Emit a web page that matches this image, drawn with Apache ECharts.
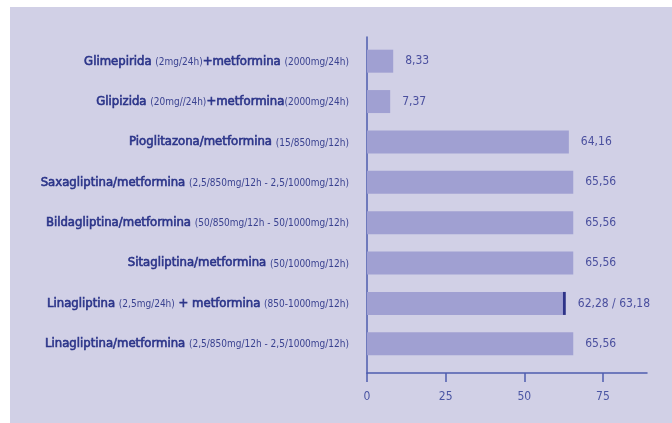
<!DOCTYPE html>
<html>
<head>
<meta charset="utf-8">
<script src="https://cdn.jsdelivr.net/npm/echarts@6/dist/echarts.min.js"></script>
<style>
  html, body { margin: 0; padding: 0; background: #ffffff; }
  #chart { position: absolute; left: 10px; top: 7px; width: 662px; height: 416px; }
</style>
</head>
<body>
<div id="chart"></div>
<script>
// ---- data ----
const categories = [
  "Glimepirida (2mg/24h)+metformina (2000mg/24h)",
  "Glipizida (20mg//24h)+metformina(2000mg/24h)",
  "Pioglitazona/metformina (15/850mg/12h)",
  "Saxagliptina/metformina (2,5/850mg/12h - 2,5/1000mg/12h)",
  "Bildagliptina/metformina (50/850mg/12h - 50/1000mg/12h)",
  "Sitagliptina/metformina (50/1000mg/12h)",
  "Linagliptina (2,5mg/24h) + metformina (850-1000mg/12h)",
  "Linagliptina/metformina (2,5/850mg/12h - 2,5/1000mg/12h)"
];
const baseValues = [8.33, 7.37, 64.16, 65.56, 65.56, 65.56, 62.28, 65.56];
const extraValues = [0, 0, 0, 0, 0, 0, 0.90, 0];
const valueLabels = ["8,33", "7,37", "64,16", "65,56", "65,56", "65,56", "62,28 / 63,18", "65,56"];
const tickValues = [0, 25, 50, 75];

// ---- chart ----
const FONT = "'DejaVu Sans Condensed', 'Liberation Sans Narrow', sans-serif";
const chart = echarts.init(document.getElementById('chart'), null, { renderer: 'canvas' });

function richLabel(text) {
  return text.split(/(\([^)]*\))/).filter(s => s.length).map(s =>
    s.startsWith('(') ? '{r|' + s + '}' : '{b|' + s + '}'
  ).join('');
}

const option = {
  backgroundColor: '#d1d0e6',
  animation: false,
  grid: [
    { left: 357, right: 25, top: 34, bottom: 59, containLabel: false, outerBoundsMode: 'none' },
    { left: 357, right: 25, top: 30, bottom: 50, containLabel: false, outerBoundsMode: 'none' }
  ],
  xAxis: [
    { type: 'value', gridIndex: 0, min: 0, max: 89, show: false },
    {
      type: 'value', gridIndex: 1, min: 0, max: 89,
      axisLine: { show: true, lineStyle: { color: '#4d5cae', width: 1.5 } },
      axisTick: { show: true, length: 9, lineStyle: { color: '#4d5cae', width: 1.5 }, customValues: tickValues },
      axisLabel: { color: '#4a55a3', fontFamily: FONT, fontSize: 12, margin: 18, customValues: tickValues },
      splitLine: { show: false }
    }
  ],
  yAxis: [
    {
      type: 'category', gridIndex: 0, data: categories, inverse: true,
      axisLine: { show: false }, axisTick: { show: false },
      axisLabel: {
        margin: 18,
        formatter: v => richLabel(v),
        rich: {
          b: { fontFamily: FONT, fontWeight: 'normal', fontSize: 13, color: '#2b3489',
               textBorderColor: '#2b3489', textBorderWidth: 0.6 },
          r: { fontFamily: FONT, fontWeight: 'normal', fontSize: 10, color: '#3a4290', padding: [2, 0, 0, 0] }
        }
      }
    },
    {
      type: 'value', gridIndex: 1,
      axisLine: { show: true, lineStyle: { color: '#4d5cae', width: 1.5 } },
      axisTick: { show: false }, axisLabel: { show: false }, splitLine: { show: false }
    }
  ],
  series: [
    {
      type: 'bar', xAxisIndex: 0, yAxisIndex: 0, stack: 'total',
      data: baseValues, barWidth: 23,
      itemStyle: { color: '#a0a0d2' }
    },
    {
      type: 'bar', xAxisIndex: 0, yAxisIndex: 0, stack: 'total',
      data: extraValues, barWidth: 23,
      itemStyle: { color: '#2e3388' },
      label: {
        show: true, position: 'right', distance: 12,
        fontFamily: FONT, fontSize: 12, color: '#4a4f9e',
        formatter: p => valueLabels[p.dataIndex]
      }
    }
  ]
};
chart.setOption(option);
</script>
</body>
</html>
